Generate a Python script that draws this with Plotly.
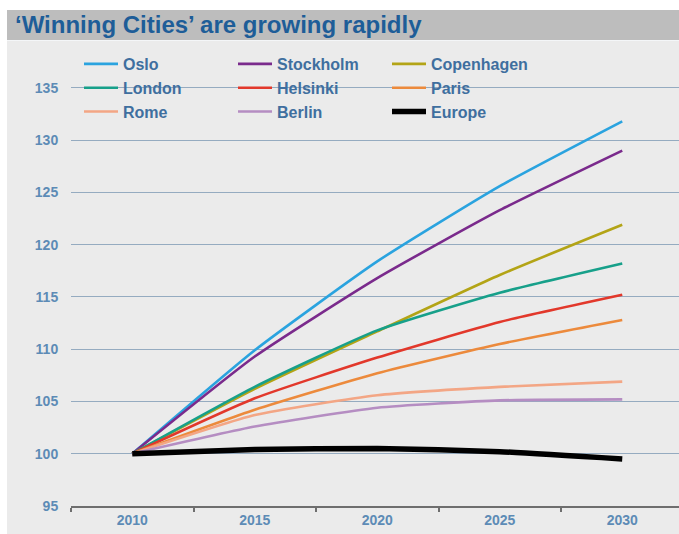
import plotly.graph_objects as go

years = [2010, 2015, 2020, 2025, 2030]

cities = ["Oslo", "Stockholm", "Copenhagen", "London", "Helsinki", "Paris", "Rome", "Berlin", "Europe"]

oslo = [100, 109.9, 118.4, 125.6, 131.8]
stockholm = [100, 109.3, 116.8, 123.3, 129.0]
copenhagen = [100, 106.2, 111.7, 117.1, 121.9]
london = [100, 106.4, 111.8, 115.4, 118.2]
helsinki = [100, 105.3, 109.2, 112.6, 115.2]
paris = [100, 104.2, 107.7, 110.5, 112.8]
rome = [100, 103.7, 105.6, 106.4, 106.9]
berlin = [100, 102.6, 104.4, 105.1, 105.2]
europe = [100, 100.4, 100.5, 100.2, 99.5]

series = [oslo, stockholm, copenhagen, london, helsinki, paris, rome, berlin, europe]
colors = ["#2aa3df", "#7a2a8c", "#b3a416", "#17a08a", "#e2382b", "#ec8a3c",
          "#f3a685", "#b58dc2", "#000000"]
widths = [2.6, 2.6, 2.6, 2.6, 2.6, 2.6, 2.6, 2.6, 5.5]

y_ticks = [95, 100, 105, 110, 115, 120, 125, 130, 135]
x_ticklabels = ["2010", "2015", "2020", "2025", "2030"]

W, H = 679, 534
L, R, T, B = 71, 679, 45, 506  # plot area in pixels


def px_x(p):
    return (p - L) / (R - L)


def px_y(p):
    return (B - p) / (B - T)


fig = go.Figure()
for name, vals, c, w in zip(cities, series, colors, widths):
    fig.add_trace(go.Scatter(
        x=years, y=vals, name=name, mode="lines",
        line=dict(color=c, width=w, shape="spline", smoothing=0.5),
    ))

shapes = [
    # light gray panel
    dict(type="rect", xref="paper", yref="paper", layer="below",
         x0=px_x(7), x1=px_x(W + 2), y0=px_y(H + 2), y1=px_y(40),
         fillcolor="#ebebeb", line=dict(width=0)),
    # title band
    dict(type="rect", xref="paper", yref="paper", layer="below",
         x0=px_x(7), x1=px_x(W + 2), y0=px_y(40), y1=px_y(10),
         fillcolor="#bdbdbd", line=dict(width=0)),
    dict(type="line", xref="paper", yref="paper", layer="below",
         x0=px_x(7), x1=px_x(W + 2), y0=px_y(40.5), y1=px_y(40.5),
         line=dict(color="#f4f6f8", width=1)),
    # legend background box hiding part of the top gridline
    dict(type="rect", xref="paper", yref="paper", layer="between",
         x0=px_x(75), x1=px_x(536), y0=px_y(122), y1=px_y(50),
         fillcolor="#ebebeb", line=dict(width=0)),
]

fig.update_layout(
    width=W, height=H,
    margin=dict(l=L, r=W - R, t=T, b=H - B, pad=0),
    paper_bgcolor="white",
    plot_bgcolor="rgba(0,0,0,0)",
    shapes=shapes,
    title=dict(
        text="‘Winning Cities’ are growing rapidly",
        xref="container", yref="container",
        x=15 / W, y=1 - 25 / H, xanchor="left", yanchor="middle",
        font=dict(family="Liberation Sans, Arial, sans-serif", size=24,
                  color="#1e5d98", weight="bold"),
    ),
    font=dict(family="Liberation Sans, Arial, sans-serif"),
    legend=dict(
        orientation="h",
        x=px_x(79), xanchor="left",
        y=px_y(47), yanchor="top",
        bgcolor="rgba(0,0,0,0)",
        borderwidth=0,
        entrywidth=105, entrywidthmode="pixels",
        itemwidth=34,
        font=dict(size=16, color="#3f6f9f", weight="bold"),
        traceorder="normal",
    ),
    showlegend=True,
)

fig.update_xaxes(
    range=[2007.5, 2007.5 + (R - L) / 24.5],
    tickvals=years, ticktext=x_ticklabels,
    ticks="", showgrid=False, zeroline=False,
    showline=True, linecolor="#6e6e6e", linewidth=2,
    tickfont=dict(size=14, color="#5d8bb6", weight="bold"),
    minor=dict(tick0=2007.5, dtick=5, ticks="outside", ticklen=4,
               tickcolor="#6e6e6e", tickwidth=1.5, showgrid=False),
    automargin=False,
)
fig.update_yaxes(
    range=[95, 139.1],
    tickvals=y_ticks,
    showgrid=True, gridcolor="#95abc0", gridwidth=1,
    zeroline=False, showline=False,
    ticks="outside", ticklen=9, tickcolor="rgba(0,0,0,0)",
    tickfont=dict(size=14, color="#5d8bb6", weight="bold"),
    automargin=False,
)

fig.write_html("out.html")
